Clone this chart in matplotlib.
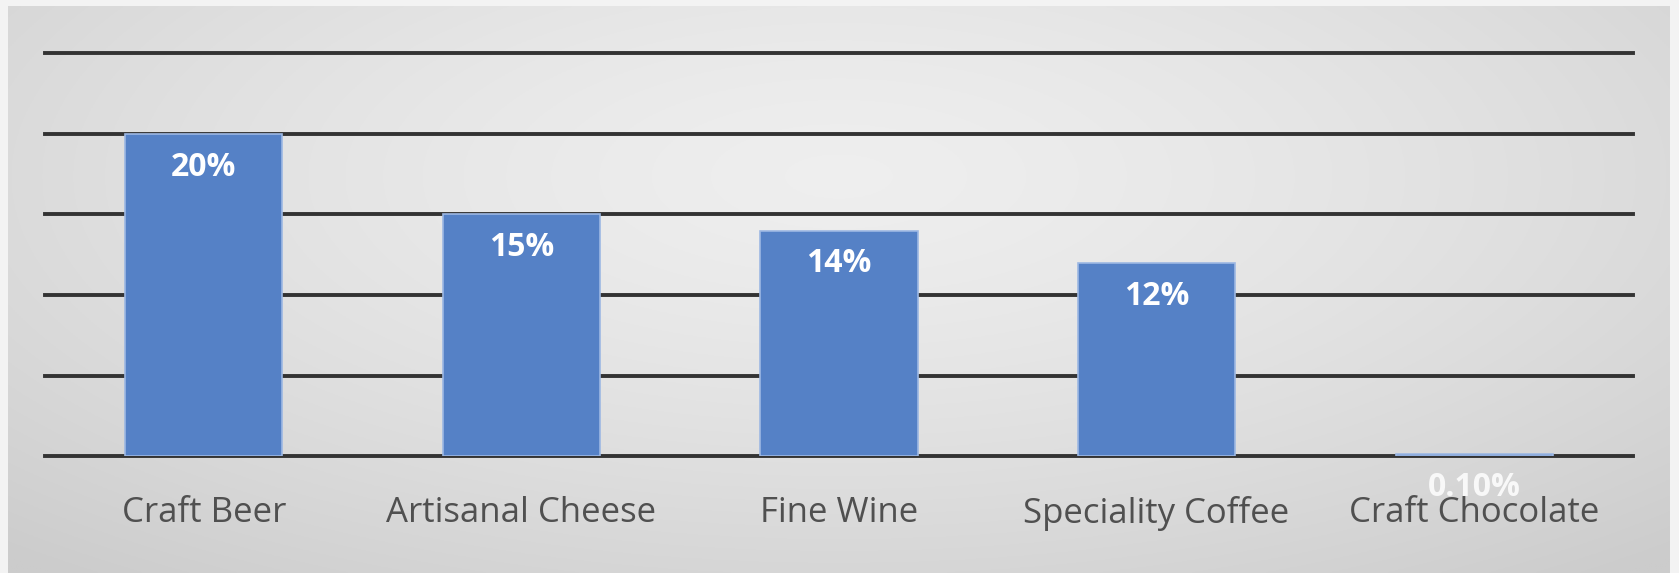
import numpy as np
import matplotlib
matplotlib.use("Agg")
import matplotlib.pyplot as plt

categories = ["Craft Beer", "Artisanal Cheese", "Fine Wine", "Speciality Coffee", "Craft Chocolate"]
values = [20, 15, 14, 12, 0.1]
value_labels = ["20%", "15%", "14%", "12%", "0.10%"]

W, H = 1679, 573
fig = plt.figure(figsize=(W / 100, H / 100), dpi=100)
fig.patch.set_facecolor("#f3f3f3")

# background panel with soft radial gradient
bg = fig.add_axes([8 / W, 0, (1670 - 8) / W, 1 - 6 / H])
bg.set_axis_off()
yy, xx = np.mgrid[0:1:300j, 0:1:900j]
d = np.sqrt(((xx - 0.5) / 0.75) ** 2 + ((yy - 0.3) / 0.9) ** 2)
d = np.clip(d, 0, 1)
lo, hi = 0.80, 0.935
g = hi - (hi - lo) * d ** 1.4
img = np.dstack([g, g, g])
bg.imshow(img, aspect="auto", extent=[0, 1, 1, 0])
bg.set_xlim(0, 1)
bg.set_ylim(1, 0)

ax = fig.add_axes([45 / W, 1 - 456 / H, (1633 - 45) / W, (456 - 53.5) / H])
ax.patch.set_alpha(0)
ax.set_xlim(-0.5, len(categories) - 0.5)
ax.set_ylim(0, 25)
ax.set_yticks([0, 5, 10, 15, 20, 25])
ax.yaxis.grid(True, color="#333333", linewidth=2.8, zorder=1)
for gl in ax.get_ygridlines():
    gl.set_clip_on(False)
ax.set_axisbelow(True)
for s in ax.spines.values():
    s.set_visible(False)
ax.tick_params(axis="y", left=False, labelleft=False)
ax.tick_params(axis="x", bottom=False, pad=25)

x = np.arange(len(categories))
bars = ax.bar(x, values, width=0.495, color="#5581c6", edgecolor="#9db8e3",
              linewidth=1.2, zorder=3)
ax.set_xticks(x)
ax.set_xticklabels(categories, fontsize=25, color="#505050", family="Open Sans")

for xi, v, lab in zip(x, values, value_labels):
    alpha = 1.0 if v > 1 else 0.85
    ax.annotate(lab, (xi, v), xytext=(0, -24), textcoords="offset points",
                ha="center", va="center", fontsize=23, fontweight="bold",
                color="white", alpha=alpha, family="Open Sans", zorder=5,
                annotation_clip=False)

fig.savefig("out.png", dpi=100)
